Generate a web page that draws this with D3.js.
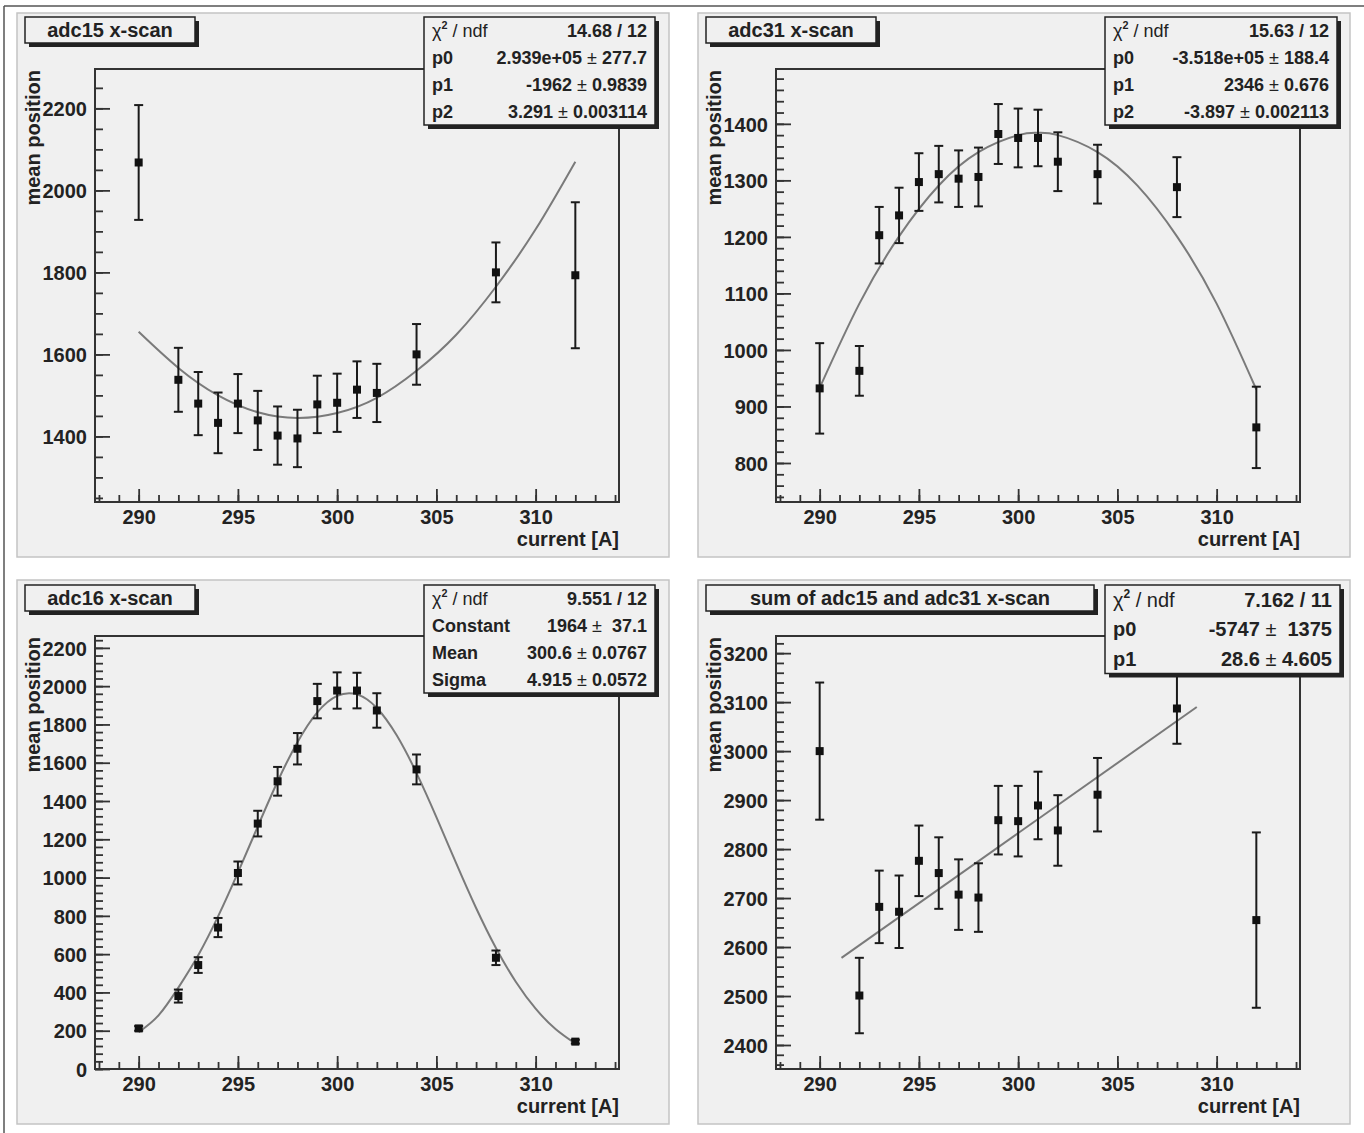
<!DOCTYPE html>
<html>
<head>
<meta charset="utf-8">
<script src="https://cdn.jsdelivr.net/npm/d3@7"></script>
<style>
  body { margin: 0; background: #fff; }
  svg { display: block; font-family: "Liberation Sans", Arial, sans-serif; }
</style>
</head>
<body>
<div class="graph"></div>
<script>
// measured currents (same for all four scans)
var currents = [290, 292, 293, 294, 295, 296, 297, 298, 299, 300, 301, 302, 304, 308, 312];

// adc15 x-scan
var adc15Mean = [2068, 1538, 1480, 1433, 1480, 1439, 1402, 1395, 1478, 1482, 1514, 1506, 1600, 1800, 1793];
var adc15Err  = [140, 78, 77, 74, 72, 72, 71, 70, 70, 71, 69, 71, 74, 73, 178];
var adc15FitX = [290, 292, 294, 296, 298, 300, 302, 304, 306, 308, 310, 312];
var adc15FitY = [1655, 1567, 1500, 1459, 1445, 1457, 1494, 1560, 1648, 1765, 1905, 2070];

// adc31 x-scan
var adc31Mean = [932, 963, 1203, 1238, 1297, 1311, 1303, 1306, 1382, 1375, 1375, 1333, 1311, 1288, 863];
var adc31Err  = [80, 44, 50, 49, 51, 50, 50, 52, 53, 52, 50, 52, 52, 53, 72];
var adc31FitX = [290, 292, 294, 296, 298, 300, 301, 302, 304, 306, 308, 310, 312];
var adc31FitY = [933, 1082, 1201, 1291, 1350, 1380, 1384, 1380, 1350, 1291, 1201, 1082, 930];

// adc16 x-scan
var adc16Mean = [212, 381, 543, 739, 1024, 1282, 1503, 1673, 1922, 1977, 1977, 1873, 1565, 581, 143];
var adc16Err  = [12, 34, 41, 50, 60, 67, 75, 82, 90, 95, 93, 90, 78, 38, 10];
var adc16FitX = [290, 291, 292, 293, 294, 295, 296, 297, 298, 299, 300, 301, 302, 303, 304, 305, 306, 307, 308, 309, 310, 311, 312];
var adc16FitY = [192, 280, 425, 594, 797, 1026, 1267, 1502, 1707, 1863, 1949, 1957, 1886, 1743, 1546, 1316, 1074, 841, 632, 456, 315, 209, 133];

// sum of adc15 and adc31
var sumMean = [3000, 2501, 2682, 2672, 2776, 2751, 2707, 2701, 2859, 2857, 2889, 2838, 2911, 3087, 2655];
var sumErr  = [140, 77, 74, 74, 72, 73, 72, 70, 70, 72, 69, 72, 75, 72, 179];
var sumFitX = [291.1, 309];
var sumFitY = [2578, 3090];

// axis ticks
var xMajorTicks = [290, 295, 300, 305, 310];
var xMinorTicks = d3.range(288, 315, 1);

var titles = ["adc15 x-scan", "adc31 x-scan", "adc16 x-scan", "sum of adc15 and adc31 x-scan"];

// fit box rows: [label, value, error]
var adc15Stats = [["p0", "2.939e+05", "277.7"], ["p1", "-1962", "0.9839"], ["p2", "3.291", "0.003114"]];
var adc31Stats = [["p0", "-3.518e+05", "188.4"], ["p1", "2346", "0.676"], ["p2", "-3.897", "0.002113"]];
var adc16Stats = [["Constant", "1964", " 37.1"], ["Mean", "300.6", "0.0767"], ["Sigma", "4.915", "0.0572"]];
var sumStats   = [["p0", "-5747", " 1375"], ["p1", "28.6", "4.605"]];
var chi2Values = ["14.68 / 12", "15.63 / 12", "9.551 / 12", "7.162 / 11"];

var width = 1364, height = 1133;

var svg = d3.select(".graph").append("svg")
    .attr("width", width)
    .attr("height", height);

// page border (only top and left edges are visible in the picture)
svg.append("line").attr("x1", 4).attr("y1", 6).attr("x2", width).attr("y2", 6)
    .attr("stroke", "#555").attr("stroke-width", 1.5);
svg.append("line").attr("x1", 4).attr("y1", 6).attr("x2", 4).attr("y2", height)
    .attr("stroke", "#555").attr("stroke-width", 1.5);

// each pad: where it sits, its y range and its ticks
var pads = [
  {dx: 0,   dy: 0,   mean: adc15Mean, err: adc15Err, fitX: adc15FitX, fitY: adc15FitY,
   yDomain: [1240, 2296], yMajor: d3.range(1400, 2201, 200), yMinor: d3.range(1250, 2296, 50),
   title: titles[0], titleW: 170, stats: adc15Stats, chi2: chi2Values[0],
   boxX: 424, boxW: 231, rowH: 27, fontSize: 18},
  {dx: 681, dy: 0,   mean: adc31Mean, err: adc31Err, fitX: adc31FitX, fitY: adc31FitY,
   yDomain: [731, 1497], yMajor: d3.range(800, 1401, 100), yMinor: d3.range(740, 1497, 20),
   title: titles[1], titleW: 170, stats: adc31Stats, chi2: chi2Values[1],
   boxX: 424, boxW: 232, rowH: 27, fontSize: 18},
  {dx: 0,   dy: 567, mean: adc16Mean, err: adc16Err, fitX: adc16FitX, fitY: adc16FitY,
   yDomain: [0, 2262], yMajor: d3.range(0, 2201, 200), yMinor: d3.range(0, 2262, 40),
   title: titles[2], titleW: 170, stats: adc16Stats, chi2: chi2Values[2],
   boxX: 424, boxW: 231, rowH: 27, fontSize: 18},
  {dx: 681, dy: 567, mean: sumMean, err: sumErr, fitX: sumFitX, fitY: sumFitY,
   yDomain: [2351, 3235], yMajor: d3.range(2400, 3201, 100), yMinor: d3.range(2360, 3235, 20),
   title: titles[3], titleW: 388, stats: sumStats, chi2: chi2Values[3],
   boxX: 424, boxW: 235, rowH: 29.5, fontSize: 20}
];

// frame inside a pad (pad-local coordinates)
var frame = {left: 95, right: 619, top: 69, bottom: 502};

pads.forEach(function(p) {
  var g = svg.append("g").attr("transform", "translate(" + p.dx + "," + p.dy + ")");

  // pad background
  g.append("rect")
      .attr("x", 17).attr("y", 13).attr("width", 652).attr("height", 544)
      .attr("fill", "#f0f0f0").attr("stroke", "#c4c4c4").attr("stroke-width", 1.5);

  var x = d3.scaleLinear().domain([287.8, 314.2]).range([frame.left, frame.right]);
  var y = d3.scaleLinear().domain(p.yDomain).range([frame.bottom, frame.top]);

  // minor ticks first, then major ticks with labels
  g.append("g").attr("transform", "translate(0," + frame.bottom + ")")
      .call(d3.axisBottom(x).tickValues(xMinorTicks).tickSizeInner(-7).tickSizeOuter(0).tickFormat(""))
      .call(function(a) { a.select(".domain").remove(); });
  g.append("g").attr("transform", "translate(" + frame.left + ",0)")
      .call(d3.axisLeft(y).tickValues(p.yMinor).tickSizeInner(-8).tickSizeOuter(0).tickFormat(""))
      .call(function(a) { a.select(".domain").remove(); });

  var xAxis = g.append("g").attr("transform", "translate(0," + frame.bottom + ")")
      .call(d3.axisBottom(x).tickValues(xMajorTicks).tickSizeInner(-13).tickSizeOuter(0)
          .tickPadding(8).tickFormat(d3.format("d")));
  var yAxis = g.append("g").attr("transform", "translate(" + frame.left + ",0)")
      .call(d3.axisLeft(y).tickValues(p.yMajor).tickSizeInner(-15).tickSizeOuter(0)
          .tickPadding(8).tickFormat(d3.format("d")));

  [xAxis, yAxis].forEach(function(a) {
    a.select(".domain").remove();
    a.selectAll("text").attr("font-size", 20).attr("font-weight", "bold")
        .attr("fill", "#222").attr("font-family", "Liberation Sans, Arial, sans-serif");
  });
  yAxis.selectAll("text").attr("dy", "0.36em");
  g.selectAll(".tick line").attr("stroke", "#333").attr("stroke-width", 1.8);

  // frame
  g.append("rect")
      .attr("x", frame.left).attr("y", frame.top)
      .attr("width", frame.right - frame.left).attr("height", frame.bottom - frame.top)
      .attr("fill", "none").attr("stroke", "#333").attr("stroke-width", 2);

  // axis titles
  g.append("text")
      .attr("x", frame.right).attr("y", 546)
      .attr("text-anchor", "end")
      .attr("font-size", 20).attr("font-weight", "bold").attr("fill", "#222")
      .text("current [A]");
  g.append("text")
      .attr("transform", "translate(40," + (frame.top + 1) + ") rotate(-90)")
      .attr("text-anchor", "end")
      .attr("font-size", 20).attr("font-weight", "bold").attr("fill", "#222")
      .text("mean position");

  // fit curve
  var fitPts = p.fitX.map(function(v, i) { return [v, p.fitY[i]]; });
  g.append("path")
      .datum(fitPts)
      .attr("fill", "none")
      .attr("stroke", "#7a7a7a")
      .attr("stroke-width", 2)
      .attr("d", d3.line()
          .x(function(d) { return x(d[0]); })
          .y(function(d) { return y(d[1]); })
          .curve(d3.curveNatural));

  // error bars and markers
  var pts = currents.map(function(c, i) { return {x: c, y: p.mean[i], e: p.err[i]}; });
  var bars = g.append("g").attr("stroke", "#1a1a1a").attr("stroke-width", 2);
  bars.selectAll(".bar").data(pts).enter().append("line")
      .attr("class", "bar")
      .attr("x1", function(d) { return x(d.x); }).attr("x2", function(d) { return x(d.x); })
      .attr("y1", function(d) { return y(d.y - d.e); }).attr("y2", function(d) { return y(d.y + d.e); });
  bars.selectAll(".capTop").data(pts).enter().append("line")
      .attr("class", "capTop")
      .attr("x1", function(d) { return x(d.x) - 4.5; }).attr("x2", function(d) { return x(d.x) + 4.5; })
      .attr("y1", function(d) { return y(d.y + d.e); }).attr("y2", function(d) { return y(d.y + d.e); });
  bars.selectAll(".capBot").data(pts).enter().append("line")
      .attr("class", "capBot")
      .attr("x1", function(d) { return x(d.x) - 4.5; }).attr("x2", function(d) { return x(d.x) + 4.5; })
      .attr("y1", function(d) { return y(d.y - d.e); }).attr("y2", function(d) { return y(d.y - d.e); });

  g.selectAll(".marker").data(pts).enter().append("rect")
      .attr("class", "marker")
      .attr("x", function(d) { return x(d.x) - 4; })
      .attr("y", function(d) { return y(d.y) - 4; })
      .attr("width", 8).attr("height", 8)
      .attr("fill", "#111");

  // title box with shadow
  var titleY = p.dy === 0 ? 17 : 18;
  g.append("rect").attr("x", 25 + 4).attr("y", titleY + 4).attr("width", p.titleW).attr("height", 26)
      .attr("fill", "#222");
  g.append("rect").attr("x", 25).attr("y", titleY).attr("width", p.titleW).attr("height", 26)
      .attr("fill", "#f0f0f0").attr("stroke", "#222").attr("stroke-width", 1.5);
  g.append("text")
      .attr("x", 25 + p.titleW / 2).attr("y", titleY + 20)
      .attr("text-anchor", "middle")
      .attr("font-size", 20).attr("font-weight", "bold").attr("fill", "#222")
      .text(p.title);

  // fit statistics box with shadow
  var nRows = p.stats.length + 1;
  var boxY = titleY;
  var boxH = nRows * p.rowH;
  g.append("rect").attr("x", p.boxX + 4).attr("y", boxY + 4).attr("width", p.boxW).attr("height", boxH)
      .attr("fill", "#222");
  g.append("rect").attr("x", p.boxX).attr("y", boxY).attr("width", p.boxW).attr("height", boxH)
      .attr("fill", "#f0f0f0").attr("stroke", "#222").attr("stroke-width", 1.5);

  var labelX = p.boxX + 8, valueX = p.boxX + p.boxW - 8;
  var base = boxY + p.rowH / 2 + p.fontSize * 0.36;

  var chiLabel = g.append("text")
      .attr("x", labelX).attr("y", base)
      .attr("font-size", p.fontSize).attr("fill", "#222");
  chiLabel.append("tspan").text("χ");
  chiLabel.append("tspan").attr("dy", -p.fontSize * 0.45).attr("font-size", p.fontSize * 0.6)
      .attr("font-weight", "bold").text("2");
  chiLabel.append("tspan").attr("dy", p.fontSize * 0.45).text(" / ndf");

  g.append("text")
      .attr("x", valueX).attr("y", base)
      .attr("text-anchor", "end")
      .attr("font-size", p.fontSize).attr("font-weight", "bold").attr("fill", "#222")
      .text(p.chi2);

  p.stats.forEach(function(row, i) {
    var yy = base + (i + 1) * p.rowH;
    g.append("text")
        .attr("x", labelX).attr("y", yy)
        .attr("font-size", p.fontSize).attr("font-weight", "bold").attr("fill", "#222")
        .text(row[0]);
    var val = g.append("text")
        .attr("x", valueX).attr("y", yy)
        .attr("text-anchor", "end")
        .attr("font-size", p.fontSize).attr("fill", "#222")
        .attr("xml:space", "preserve");
    val.append("tspan").attr("font-weight", "bold").text(row[1]);
    val.append("tspan").attr("font-weight", "normal").text(" ± ");
    val.append("tspan").attr("font-weight", "bold").text(row[2]);
  });
});
</script>
</body>
</html>
